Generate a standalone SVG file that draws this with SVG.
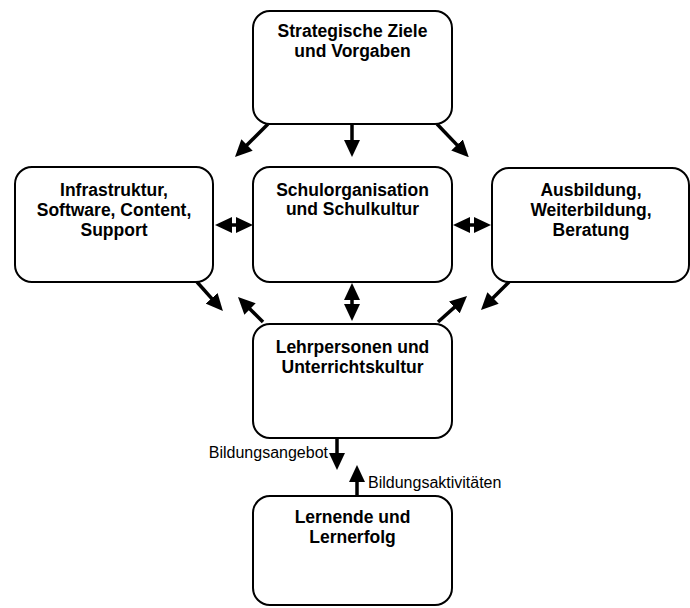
<svg xmlns="http://www.w3.org/2000/svg" width="690" height="608" viewBox="0 0 690 608">
<style>
.box{fill:#fff;stroke:#000;stroke-width:2}
.t{font-family:"Liberation Sans",Arial,sans-serif;font-weight:bold;font-size:17.5px;text-anchor:middle;fill:#000}
.lbl{font-family:"Liberation Sans",Arial,sans-serif;font-size:16px;fill:#000}
.c{stroke:#000;stroke-width:3.5;fill:none;marker-end:url(#ah)}
.d{marker-start:url(#ah)}
</style>
<defs>
<marker id="ah" viewBox="0 0 17 16" refX="3" refY="8" markerWidth="17" markerHeight="16" markerUnits="userSpaceOnUse" orient="auto-start-reverse">
<path d="M0,0 L17,8 L0,16 z" fill="#000"/>
</marker>
</defs>
<rect width="690" height="608" fill="#fff"/>
<g id="connectors">
<line class="c" x1="268" y1="124" x2="244.9" y2="147.1"/>
<line class="c" x1="352" y1="124" x2="352" y2="143"/>
<line class="c" x1="437" y1="124" x2="459.1" y2="147.1"/>
<line class="c d" x1="239" y1="225" x2="229" y2="225"/>
<line class="c d" x1="467" y1="225" x2="477" y2="225"/>
<line class="c d" x1="352" y1="307" x2="352" y2="297"/>
<line class="c" x1="197" y1="282" x2="213.6" y2="300.6"/>
<line class="c" x1="263" y1="322" x2="247.9" y2="306.9"/>
<line class="c" x1="509" y1="282" x2="490.9" y2="300.1"/>
<line class="c" x1="438" y1="322" x2="456.6" y2="305.4"/>
<line class="c" x1="337" y1="438" x2="337" y2="456"/>
<line class="c" x1="357" y1="496" x2="357" y2="479"/>
<text class="lbl" x="328" y="458" text-anchor="end">Bildungsangebot</text>
<text class="lbl" x="368" y="488">Bildungsaktivitäten</text>
</g>
<g id="strategische-ziele">
<rect class="box" x="253" y="11" width="199" height="113" rx="17"/>
<text class="t" x="352.5" y="37">Strategische Ziele</text>
<text class="t" x="352.5" y="57">und Vorgaben</text>
</g>
<g id="infrastruktur">
<rect class="box" x="15" y="167" width="198" height="115" rx="17"/>
<text class="t" x="114" y="196">Infrastruktur,</text>
<text class="t" x="114" y="216">Software, Content,</text>
<text class="t" x="114" y="236">Support</text>
</g>
<g id="schulorganisation">
<rect class="box" x="253" y="167" width="199" height="115" rx="17"/>
<text class="t" x="352.5" y="196">Schulorganisation</text>
<text class="t" x="352.5" y="215">und Schulkultur</text>
</g>
<g id="ausbildung">
<rect class="box" x="492" y="168" width="197" height="114" rx="17"/>
<text class="t" x="591" y="196">Ausbildung,</text>
<text class="t" x="591" y="216">Weiterbildung,</text>
<text class="t" x="591" y="236">Beratung</text>
</g>
<g id="lehrpersonen">
<rect class="box" x="253" y="324" width="199" height="114" rx="17"/>
<text class="t" x="352.5" y="353">Lehrpersonen und</text>
<text class="t" x="352.5" y="373">Unterrichtskultur</text>
</g>
<g id="lernende">
<rect class="box" x="253" y="496" width="199" height="109" rx="17"/>
<text class="t" x="352.5" y="523">Lernende und</text>
<text class="t" x="352.5" y="543">Lernerfolg</text>
</g>
</svg>
